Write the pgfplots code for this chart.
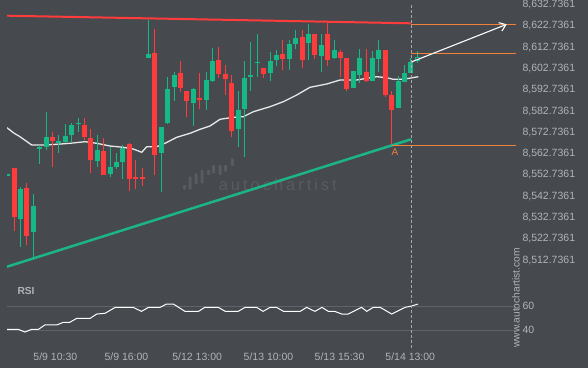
\documentclass[border=0pt]{standalone}
\usepackage{fontspec}
\setmainfont{Liberation Sans}
\usepackage{pgfplots}
\usepackage{pgfplotstable}
\pgfplotsset{compat=1.18}
\usetikzlibrary{arrows.meta}
\definecolor{bgc}{RGB}{70,73,78}
\definecolor{txt}{RGB}{176,179,183}
\definecolor{cred}{RGB}{255,59,59}
\definecolor{cgreen}{RGB}{22,184,134}
\definecolor{lgreen}{RGB}{28,181,137}
\definecolor{corange}{RGB}{240,128,58}
\definecolor{gridc}{RGB}{96,100,104}
\definecolor{wm}{RGB}{88,91,96}
\definecolor{mac}{RGB}{232,232,232}
\definecolor{dashc}{RGB}{165,168,172}

\pgfplotstableread{
i o h l c
2 8556.0 8556.0 8526.5 8533.1
4 8546.6 8548.8 8520.0 8524.0
8 8570.6 8572.8 8556.6 8568.8
13 8576.2 8579.4 8569.2 8570.6
14 8570.1 8574.2 8553.8 8559.9
16 8564.0 8570.2 8552.9 8552.9
20 8567.6 8567.7 8545.3 8550.8
21 8551.6 8559.8 8546.5 8551.6
22 8551.6 8555.9 8547.7 8551.6
24 8610.0 8621.6 8553.0 8562.1
28 8600.6 8606.4 8591.6 8593.6
29 8592.2 8592.2 8580.1 8587.5
31 8588.6 8601.0 8583.7 8588.6
34 8606.8 8612.7 8598.4 8600.3
35 8600.2 8604.4 8590.6 8597.8
36 8595.9 8599.7 8570.4 8573.5
41 8603.0 8603.0 8598.4 8600.2
44 8609.6 8616.0 8601.9 8607.2
47 8617.6 8620.9 8603.3 8607.1
49 8619.0 8619.0 8607.1 8609.1
51 8619.0 8624.0 8603.8 8606.8
53 8610.8 8611.5 8598.9 8608.0
54 8607.7 8607.7 8592.5 8593.1
57 8601.1 8611.9 8596.4 8596.9
60 8611.5 8611.5 8589.4 8590.2
61 8590.3 8592.2 8566.8 8583.3
}\redtab

\pgfplotstableread{
i o h l c
1 8552.4 8553.3 8552.4 8553.3
3 8532.0 8546.9 8519.0 8546.1
5 8526.1 8543.6 8513.1 8538.1
6 8565.4 8566.8 8557.7 8565.4
7 8566.0 8582.3 8564.5 8570.6
9 8568.5 8571.4 8563.2 8568.5
10 8568.2 8576.5 8567.6 8571.0
11 8571.5 8577.0 8567.9 8576.2
12 8577.0 8579.4 8573.1 8577.0
15 8559.4 8571.4 8556.3 8564.5
17 8553.2 8566.0 8551.9 8556.6
18 8556.6 8562.9 8555.7 8558.8
19 8558.8 8567.1 8550.7 8565.5
23 8607.7 8625.5 8607.7 8609.6
25 8563.0 8575.3 8544.9 8575.3
26 8577.1 8598.9 8576.7 8593.1
27 8594.1 8601.1 8587.6 8599.7
30 8586.7 8593.6 8576.1 8593.1
32 8588.0 8601.3 8583.3 8597.4
33 8596.9 8612.7 8596.4 8606.3
37 8574.3 8592.0 8566.0 8583.3
38 8583.7 8606.3 8561.5 8598.3
39 8599.4 8615.1 8592.3 8599.4
40 8605.7 8619.0 8598.9 8605.7
42 8600.8 8610.4 8596.7 8606.3
43 8606.8 8611.5 8604.1 8609.0
45 8607.2 8616.0 8601.9 8614.3
46 8614.3 8620.9 8611.9 8617.1
48 8614.9 8623.7 8606.6 8619.0
50 8608.6 8619.0 8601.0 8613.8
52 8608.0 8616.0 8607.1 8611.5
55 8593.7 8601.6 8593.7 8601.6
56 8599.7 8611.9 8595.9 8607.7
58 8597.0 8610.8 8596.9 8607.7
59 8607.2 8616.0 8601.1 8611.5
62 8584.1 8599.2 8584.1 8596.9
63 8596.6 8604.4 8596.6 8600.8
64 8600.8 8608.0 8600.8 8605.8
65 8606.3 8611.0 8605.7 8608.3
}\greentab

\pgfplotsset{
 wick/.style={draw=none, mark=none, forget plot,
   error bars/.cd, y dir=both, y explicit, error mark=none,
   error bar style={line width=1pt, draw=#1}},
 body/.style={draw=none, mark=none, forget plot,
   error bars/.cd, y dir=both, y explicit, error mark=none,
   error bar style={line width=5pt, draw=#1}},
}

\begin{document}
\begin{tikzpicture}
\useasboundingbox (0pt,0pt) rectangle (588pt,-368pt);
\fill[bgc] (0pt,0pt) rectangle (588pt,-368pt);
% watermark logo bars
\begin{scope}[wm, rounded corners=0.8pt]
\fill (183pt,-185pt) rectangle (186pt,-189.5pt);
\fill (188.5pt,-176.7pt) rectangle (191.5pt,-189.5pt);
\fill (194.5pt,-173.3pt) rectangle (197.5pt,-184.3pt);
\fill (200.5pt,-170pt) rectangle (203.5pt,-183.3pt);
\fill (207pt,-170pt) rectangle (210pt,-175pt);
\fill (212pt,-165pt) rectangle (215pt,-173.3pt);
\fill (218.5pt,-165pt) rectangle (221.5pt,-175pt);
\fill (224.2pt,-165pt) rectangle (227.2pt,-171.7pt);
\fill (230.8pt,-158.3pt) rectangle (233.8pt,-166pt);
\end{scope}

\begin{axis}[at={(7pt,-280pt)}, anchor=south west, scale only axis,
  width=509pt, height=280pt,
  xmin=0.89, xmax=80.42, ymin=8503.36, ymax=8634.94,
  axis line style={draw=none}, tick style={draw=none},
  major tick length=0pt,
  xtick=\empty,
  ytick={8512.7361,8522.7361,8532.7361,8542.7361,8552.7361,8562.7361,8572.7361,8582.7361,8592.7361,8602.7361,8612.7361,8622.7361,8632.7361},
  yticklabels={{8,512.7361},{8,522.7361},{8,532.7361},{8,542.7361},{8,552.7361},{8,562.7361},{8,572.7361},{8,582.7361},{8,592.7361},{8,602.7361},{8,612.7361},{8,622.7361},{8,632.7361}},
  yticklabel pos=right,
  yticklabel style={font=\fontsize{10.5}{12}\selectfont, text=txt, anchor=west, xshift=3pt},
]
% watermark text
\node[anchor=base, font=\fontsize{16.5}{20}\selectfont\addfontfeatures{LetterSpace=18}, text=wm] at (axis cs:43.2,8545.4) {autochartist};

% moving average
\addplot[mac, line width=1.3pt, forget plot] coordinates {
(0.89,8574.93)(1.88,8572.58)(2.92,8570.70)(4.75,8566.80)(6.56,8566.80)(8.66,8567.13)
(10.73,8567.60)(13.08,8568.35)(14.91,8567.60)(16.98,8566.33)(19.06,8565.72)(20.63,8564.92)
(21.94,8563.37)(22.72,8566.00)(24.28,8566.00)(25.58,8567.60)(27.41,8570.42)(29.48,8572.30)
(31.05,8574.18)(32.61,8575.73)(34.17,8578.88)(36.25,8579.82)(37.81,8580.10)(39.38,8582.45)
(41.98,8584.80)(44.06,8587.15)(46.16,8590.30)(48.23,8593.92)(50.84,8595.47)(52.92,8597.35)
(55.53,8597.35)(58.66,8598.90)(60.22,8598.43)(61.25,8597.67)(62.81,8597.67)(65.16,8598.90)};

% candles
\addplot[wick=cred] table[x=i, y expr={(\thisrow{h}+\thisrow{l})/2}, y error expr={(\thisrow{h}-\thisrow{l})/2}] {\redtab};
\addplot[body=cred] table[x=i, y expr={(\thisrow{o}+\thisrow{c})/2}, y error expr={max(abs(\thisrow{o}-\thisrow{c})/2,0.3)}] {\redtab};
\addplot[wick=cgreen] table[x=i, y expr={(\thisrow{h}+\thisrow{l})/2}, y error expr={(\thisrow{h}-\thisrow{l})/2}] {\greentab};
\addplot[body=cgreen] table[x=i, y expr={(\thisrow{o}+\thisrow{c})/2}, y error expr={max(abs(\thisrow{o}-\thisrow{c})/2,0.3)}] {\greentab};
% hollow current candle
\addplot[draw=none, mark=none, forget plot, error bars/.cd, y dir=both, y explicit, error mark=none,
   error bar style={line width=3pt, draw=bgc}] coordinates {(65,8607.3) +- (0,0.55)};

% trend lines
\addplot[cred, line width=2pt, forget plot] coordinates {(0.89,8627.56)(64.02,8623.99)};
\addplot[lgreen, line width=2.5pt, forget plot] coordinates {(0.89,8509.61)(64.02,8569.48)};
\addplot[corange, line width=1.2pt, forget plot] coordinates {(64.02,8623.34)(80.42,8623.34)};
\addplot[corange, line width=1.1pt, forget plot] coordinates {(64.02,8609.90)(80.42,8609.90)};
\addplot[corange, line width=1.1pt, forget plot] coordinates {(61.0,8566.66)(80.42,8566.66)};
\addplot[white, line width=1.1pt, forget plot, -{Straight Barb[length=6pt,width=9pt]}] coordinates {(64.06,8605.81)(78.97,8623.52)};
\node[text=corange, font=\fontsize{10}{12}\selectfont] at (axis cs:61.5,8563.6) {A};
\draw[dashc, line width=0.8pt, dash pattern=on 3pt off 2pt] (axis cs:64.06,8632.5) -- (axis cs:64.06,8503.36);
\end{axis}

\begin{axis}[at={(7pt,-344.9pt)}, anchor=south west, scale only axis,
  width=509pt, height=64.9pt,
  xmin=0.89, xmax=80.42, ymin=28, ymax=81.4, clip=false,
  axis line style={draw=none}, tick style={draw=none},
  major tick length=0pt,
  ytick={40,60}, yticklabels={40,60}, yticklabel pos=right,
  ymajorgrids, grid style={gridc, line width=0.8pt},
  yticklabel style={font=\fontsize{10.5}{12}\selectfont, text=txt, anchor=west, xshift=3pt},
  xtick={8.45,19.55,30.6,41.75,52.85,63.9},
  xticklabels={5/9 10:30,5/9 16:00,5/12 13:00,5/13 10:00,5/13 15:30,5/14 13:00},
  xticklabel style={font=\fontsize{10.5}{12}\selectfont, text=txt, yshift=-4pt},
]
\addplot[white, line width=1pt, forget plot] coordinates {
(0.89,40.8)(2.66,40.8)(3.7,38.6)(4.75,40.8)(5.8,40.8)(6.8,44.4)(8.66,44.4)(9.7,46.6)(10.7,46.6)
(11.8,49.9)(13.9,49.9)(14.9,53.4)(16.2,54.0)(17.8,58.9)(20.6,58.9)(21.9,55.6)(23.0,58.9)(24.8,58.9)
(25.8,61.6)(26.9,61.6)(28.7,55.6)(30.8,55.6)(31.8,58.9)(33.9,58.9)(35.0,55.6)(37.0,55.6)(38.1,58.9)
(39.9,58.9)(40.9,55.6)(42.0,58.9)(43.0,58.9)(44.1,55.6)(46.7,55.6)(47.7,58.9)(49.0,55.6)(50.1,58.9)
(51.1,55.6)(52.1,55.6)(53.2,53.4)(54.2,53.4)(56.3,58.9)(57.1,55.6)(58.1,58.9)(59.2,58.9)(61.0,53.4)
(63.1,58.9)(64.1,60.0)(65.1,61.6)};
\draw[dashc, line width=0.8pt, dash pattern=on 3pt off 2pt] (axis cs:64.06,81.4) -- (axis cs:64.06,23.8);
\end{axis}

\node[anchor=west, text=txt, font=\bfseries\fontsize{10.2}{12}\selectfont] at (14pt,-291.3pt) {RSI};
\node[rotate=90, text=txt, font=\fontsize{10.2}{12}\selectfont] at (516pt,-298pt) {www.autochartist.com};
\end{tikzpicture}
\end{document}
